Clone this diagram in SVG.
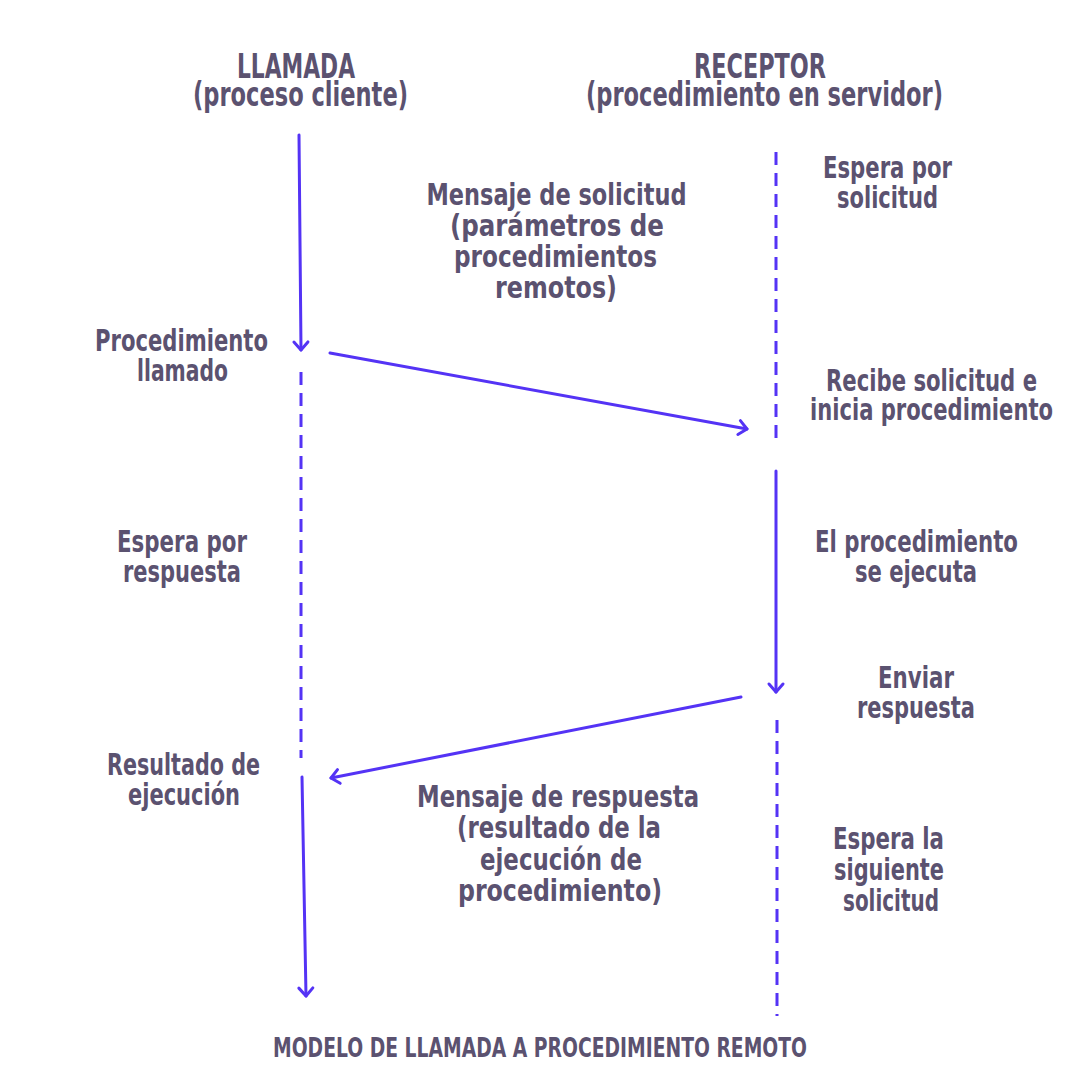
<svg xmlns="http://www.w3.org/2000/svg" width="1080" height="1080" viewBox="0 0 1080 1080">
<style>
.t{font-family:"Liberation Sans Narrow","DejaVu Sans Condensed","Liberation Sans",sans-serif;font-weight:bold;font-size:30px;fill:#5b5270;text-anchor:middle}
.h{font-size:33px}
.f{font-size:27px}
.ln{stroke:#5433f5;stroke-width:3;fill:none;stroke-linecap:round}
.d{stroke-dasharray:13 8;stroke-linecap:butt}
</style>
<defs>
<marker id="ah" markerUnits="userSpaceOnUse" viewBox="-12 -10 16 20" markerWidth="16" markerHeight="20" refX="0" refY="0" orient="auto">
<path d="M-8,-7 L0,0 L-8,7" fill="none" stroke="#5433f5" stroke-width="3" stroke-linecap="round" stroke-linejoin="round"/>
</marker>
</defs>
<rect width="1080" height="1080" fill="#ffffff"/>
<g id="connectors">
<line class="ln" x1="299" y1="135" x2="301" y2="350" marker-end="url(#ah)"/>
<line class="ln d" x1="301" y1="372" x2="301" y2="758"/>
<line class="ln" x1="302" y1="777" x2="306" y2="996" marker-end="url(#ah)"/>
<line class="ln" x1="330" y1="353" x2="747" y2="429" marker-end="url(#ah)"/>
<line class="ln d" x1="776" y1="152" x2="776" y2="444"/>
<line class="ln" x1="776" y1="471" x2="776" y2="692" marker-end="url(#ah)"/>
<line class="ln" x1="741" y1="697" x2="331" y2="778" marker-end="url(#ah)"/>
<line class="ln d" x1="777" y1="720" x2="777" y2="1016"/>
</g>
<g id="header-llamada">
<text class="t h" x="296" y="78" textLength="118" lengthAdjust="spacingAndGlyphs">LLAMADA</text>
<text class="t h" x="300.5" y="106" textLength="215" lengthAdjust="spacingAndGlyphs">(proceso cliente)</text>
</g>
<g id="header-receptor">
<text class="t h" x="760" y="78" textLength="132" lengthAdjust="spacingAndGlyphs">RECEPTOR</text>
<text class="t h" x="764.5" y="106" textLength="357" lengthAdjust="spacingAndGlyphs">(procedimiento en servidor)</text>
</g>
<g id="msg-solicitud">
<text class="t" x="556.5" y="205" textLength="260" lengthAdjust="spacingAndGlyphs">Mensaje de solicitud</text>
<text class="t" x="557" y="236" textLength="214" lengthAdjust="spacingAndGlyphs">(parámetros de</text>
<text class="t" x="555.5" y="267" textLength="203" lengthAdjust="spacingAndGlyphs">procedimientos</text>
<text class="t" x="556" y="298" textLength="122" lengthAdjust="spacingAndGlyphs">remotos)</text>
</g>
<g id="espera-solicitud">
<text class="t" x="887.5" y="178" textLength="129" lengthAdjust="spacingAndGlyphs">Espera por</text>
<text class="t" x="887.5" y="208" textLength="101" lengthAdjust="spacingAndGlyphs">solicitud</text>
</g>
<g id="recibe">
<text class="t" x="931.5" y="391" textLength="211" lengthAdjust="spacingAndGlyphs">Recibe solicitud e</text>
<text class="t" x="931.5" y="420" textLength="243" lengthAdjust="spacingAndGlyphs">inicia procedimiento</text>
</g>
<g id="proc-llamado">
<text class="t" x="181.5" y="351" textLength="173" lengthAdjust="spacingAndGlyphs">Procedimiento</text>
<text class="t" x="182.5" y="381" textLength="91" lengthAdjust="spacingAndGlyphs">llamado</text>
</g>
<g id="espera-respuesta">
<text class="t" x="182" y="552" textLength="130" lengthAdjust="spacingAndGlyphs">Espera por</text>
<text class="t" x="182" y="582" textLength="118" lengthAdjust="spacingAndGlyphs">respuesta</text>
</g>
<g id="resultado">
<text class="t" x="183.5" y="775" textLength="153" lengthAdjust="spacingAndGlyphs">Resultado de</text>
<text class="t" x="184" y="805" textLength="112" lengthAdjust="spacingAndGlyphs">ejecución</text>
</g>
<g id="ejecuta">
<text class="t" x="916.5" y="552" textLength="203" lengthAdjust="spacingAndGlyphs">El procedimiento</text>
<text class="t" x="916" y="582" textLength="122" lengthAdjust="spacingAndGlyphs">se ejecuta</text>
</g>
<g id="enviar">
<text class="t" x="916" y="688" textLength="76" lengthAdjust="spacingAndGlyphs">Enviar</text>
<text class="t" x="916" y="718" textLength="118" lengthAdjust="spacingAndGlyphs">respuesta</text>
</g>
<g id="msg-respuesta">
<text class="t" x="558" y="807" textLength="282" lengthAdjust="spacingAndGlyphs">Mensaje de respuesta</text>
<text class="t" x="559" y="838" textLength="204" lengthAdjust="spacingAndGlyphs">(resultado de la</text>
<text class="t" x="561" y="870" textLength="162" lengthAdjust="spacingAndGlyphs">ejecución de</text>
<text class="t" x="560" y="901" textLength="204" lengthAdjust="spacingAndGlyphs">procedimiento)</text>
</g>
<g id="espera-siguiente">
<text class="t" x="888.5" y="849" textLength="111" lengthAdjust="spacingAndGlyphs">Espera la</text>
<text class="t" x="889" y="880" textLength="110" lengthAdjust="spacingAndGlyphs">siguiente</text>
<text class="t" x="891" y="911" textLength="96" lengthAdjust="spacingAndGlyphs">solicitud</text>
</g>
<g id="footer">
<text class="t f" x="540" y="1057" textLength="534" lengthAdjust="spacingAndGlyphs">MODELO DE LLAMADA A PROCEDIMIENTO REMOTO</text>
</g>
</svg>
